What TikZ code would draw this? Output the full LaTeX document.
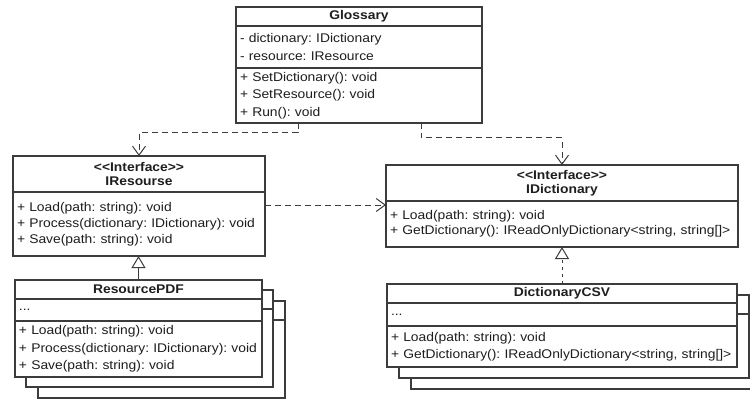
\documentclass[tikz,border=0pt]{standalone}
\usepackage{fontspec}
\setmainfont{Liberation Sans}[FakeStretch=1.1]
\usetikzlibrary{arrows.meta,positioning}
\frenchspacing

\definecolor{umlline}{HTML}{3C3C3C}
\definecolor{umltext}{HTML}{1E1E1E}
\newcommand{\umlfont}{\fontsize{12.6}{17.5}\selectfont}

\tikzset{
  box/.style={draw=umlline, line width=1.1pt, fill=white, outer sep=0pt,
    anchor=north west, inner xsep=4pt, inner ysep=0pt, text=umltext, font=\umlfont},
  head/.style={box, align=center, font=\umlfont\bfseries},
  body/.style={box, align=left},
  glossw/.style={minimum width=246pt, text width=238pt},
  resw/.style={minimum width=252pt, text width=244pt},
  pdfw/.style={minimum width=247pt, text width=239pt},
  dictw/.style={minimum width=352pt, text width=344pt},
  csvw/.style={minimum width=350pt, text width=342pt},
  dep/.style={draw=umlline, line width=1pt, dash pattern=on 6pt off 4pt,
    -{Straight Barb[length=9pt,width=13pt]}},
  inherit/.style={draw=umlline, line width=1pt, -{Triangle[open,length=12pt,width=14pt]}},
  realize/.style={inherit, dash pattern=on 3pt off 4pt}
}

\begin{document}
\begin{tikzpicture}[x=1pt,y=-1pt]
    \clip (0,0) rectangle (750,401);

    % Glossary
    \node[head, glossw, minimum height=19] (glossary) at (236,7) {Glossary};
    \node[body, glossw, minimum height=42, below=0pt of glossary.south west, anchor=north west] (glossary-attr)
        {- dictionary: IDictionary\\- resource: IResource};
    \node[body, glossw, minimum height=55, below=0pt of glossary-attr.south west, anchor=north west] (glossary-ops)
        {+ SetDictionary(): void\\+ SetResource(): void\\+ Run(): void};

    % interfaces
    \node[head, resw, minimum height=36, font=\fontsize{12.6}{14}\selectfont\bfseries] (ires-head) at (13,156)
        {<{}<Interface>{}>\\IResourse};
    \node[body, resw, minimum height=64, font=\fontsize{12.6}{16}\selectfont, below=0pt of ires-head.south west, anchor=north west] (ires-ops)
        {+ Load(path: string): void\\+ Process(dictionary: IDictionary): void\\+ Save(path: string): void};

    \node[head, dictw, minimum height=36, font=\fontsize{12.6}{14}\selectfont\bfseries] (idict-head) at (386,165)
        {<{}<Interface>{}>\\IDictionary};
    \node[body, dictw, minimum height=46, font=\fontsize{12.6}{15}\selectfont, below=0pt of idict-head.south west, anchor=north west] (idict-ops)
        {+ Load(path: string): void\\+ GetDictionary(): IReadOnlyDictionary<string, string[]>};

    % ResourcePDF (stacked)
    \node[head, pdfw, minimum height=19] (pdf-head3) at (38,301) {};
    \node[body, pdfw, minimum height=78, below=0pt of pdf-head3.south west, anchor=north west] (pdf-body3) {};
    \node[head, pdfw, minimum height=19] (pdf-head2) at (26,290) {};
    \node[body, pdfw, minimum height=78, below=0pt of pdf-head2.south west, anchor=north west] (pdf-body2) {};
    \node[head, pdfw, minimum height=19] (pdf-head) at (15,280) {ResourcePDF};
    \node[body, pdfw, minimum height=22, below=0pt of pdf-head.south west, anchor=north west] (pdf-attr) {...};
    \node[body, pdfw, minimum height=56, below=0pt of pdf-attr.south west, anchor=north west] (pdf-ops)
        {+ Load(path: string): void\\+ Process(dictionary: IDictionary): void\\+ Save(path: string): void};

    % DictionaryCSV (stacked)
    \node[head, csvw, minimum height=19] (csv-head3) at (411,306) {};
    \node[body, csvw, minimum height=64, below=0pt of csv-head3.south west, anchor=north west] (csv-body3) {};
    \node[head, csvw, minimum height=19] (csv-head2) at (399,295) {};
    \node[body, csvw, minimum height=64, below=0pt of csv-head2.south west, anchor=north west] (csv-body2) {};
    \node[head, csvw, minimum height=19] (csv-head) at (387,284) {DictionaryCSV};
    \node[body, csvw, minimum height=23, below=0pt of csv-head.south west, anchor=north west] (csv-attr) {...};
    \node[body, csvw, minimum height=41, below=0pt of csv-attr.south west, anchor=north west] (csv-ops)
        {+ Load(path: string): void\\+ GetDictionary(): IReadOnlyDictionary<string, string[]>};

    % connectors
    \draw[dep] ([xshift=62pt]glossary-ops.south west) -- ++(0,10) -| (ires-head.north);
    \draw[dep] ([xshift=185pt]glossary-ops.south west) -- ++(0,15) -| (idict-head.north);
    \coordinate (uses) at ([yshift=-13pt]ires-ops.north east);
    \draw[dep] (uses) -- (uses -| idict-ops.west);
    \draw[inherit] (pdf-head.north) -- (pdf-head.north |- ires-ops.south);
    \draw[realize] (csv-head.north) -- (csv-head.north |- idict-ops.south);
\end{tikzpicture}
\end{document}
